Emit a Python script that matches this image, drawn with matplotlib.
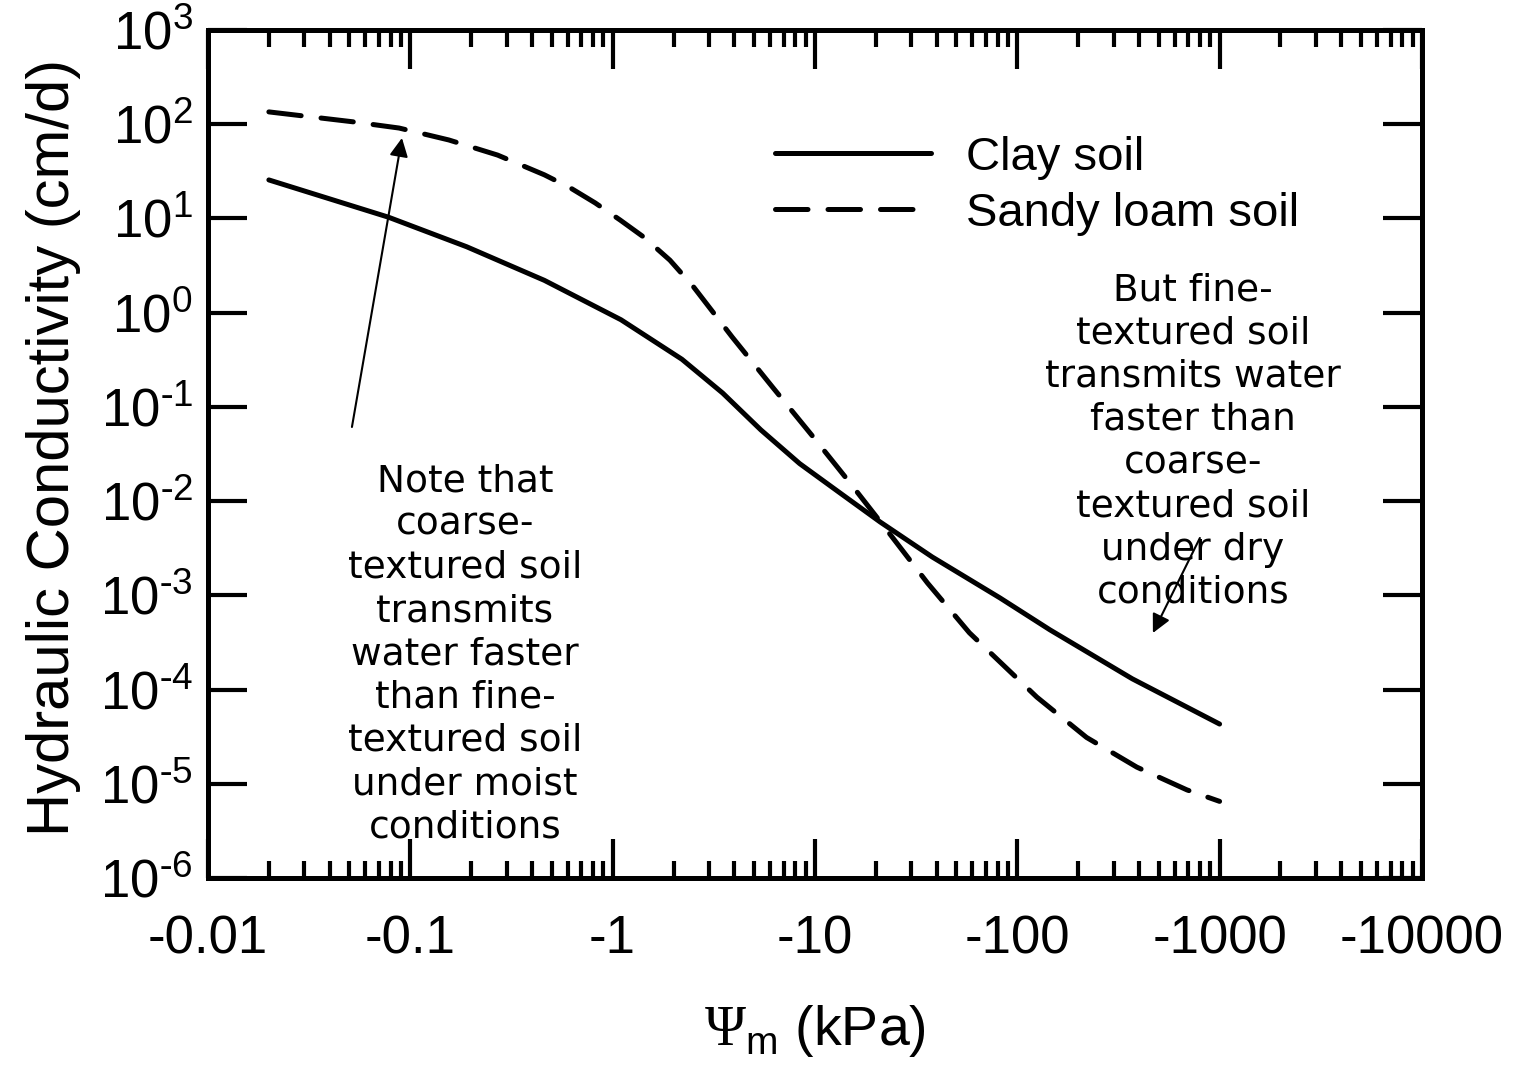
import numpy as np
import matplotlib
matplotlib.use("Agg")
import matplotlib.pyplot as plt
from matplotlib import ticker

plt.rcParams['font.family'] = ['Liberation Sans', 'DejaVu Sans']
plt.rcParams['mathtext.fontset'] = 'custom'
plt.rcParams['mathtext.rm'] = 'Liberation Serif'
plt.rcParams['mathtext.sf'] = 'Liberation Sans'

# matric potential magnitude (kPa); the axis is labelled with negative values
clay_psi = [0.02, 0.078, 0.19, 0.46, 1.1, 2.2, 3.5, 5.4, 8.4, 13.3, 21, 38, 82, 145, 370, 1000]
clay_k = [25.6, 10.3, 5.0, 2.2, 0.84, 0.32, 0.14, 0.057, 0.025, 0.0122, 0.0060, 0.00255,
          9.4e-4, 4.3e-4, 1.3e-4, 4.3e-5]

sand_psi = [0.02, 0.052, 0.088, 0.155, 0.27, 0.46, 0.62, 0.82, 1.09, 1.43, 1.92, 2.5, 3.9,
            6.2, 9.8, 14.9, 22.7, 36, 58, 125, 220, 390, 690, 1000]
sand_k = [135, 106, 91, 68, 47, 29, 21, 14.6, 9.6, 6.3, 3.6, 1.9, 0.55, 0.16, 0.048,
          0.0156, 0.0049, 0.00135, 4.0e-4, 8.3e-5, 3.1e-5, 1.5e-5, 8.6e-6, 6.5e-6]

series_labels = ['Clay soil', 'Sandy loam soil']

x_decades = [0.01, 0.1, 1, 10, 100, 1000, 10000]
y_decades = [1e-6, 1e-5, 1e-4, 1e-3, 1e-2, 1e-1, 1e0, 1e1, 1e2, 1e3]

note_left = ("Note that\ncoarse-\ntextured soil\ntransmits\nwater faster\n"
             "than fine-\ntextured soil\nunder moist\nconditions")
note_right = ("But fine-\ntextured soil\ntransmits water\nfaster than\ncoarse-\n"
              "textured soil\nunder dry\nconditions")


def decade_label(v, _):
    e = int(round(np.log10(v)))
    if e < 0:
        return r'$\mathsf{10^{\text{-}%d}}$' % (-e)
    return r'$\mathsf{10^{%d}}$' % e


fig = plt.figure(figsize=(15.18, 10.66), dpi=100)
ax = fig.add_axes([0.1370, 0.1764, 0.7997, 0.7955])

ax.plot(clay_psi, clay_k, color='black', lw=3.6, solid_capstyle='round',
        solid_joinstyle='round', label=series_labels[0])
ax.plot(sand_psi, sand_k, color='black', lw=3.6, ls=(0, (6.5, 4.0)),
        dash_capstyle='round', dash_joinstyle='round', label=series_labels[1])

ax.set_xscale('log')
ax.set_yscale('log')
ax.set_xlim(x_decades[0], x_decades[-1])
ax.set_ylim(y_decades[0], y_decades[-1])

minor_x = [d * m for d in x_decades[:-1] for m in range(2, 10)]
ax.xaxis.set_major_locator(ticker.FixedLocator(x_decades))
ax.xaxis.set_minor_locator(ticker.FixedLocator(minor_x))
ax.xaxis.set_major_formatter(ticker.FuncFormatter(lambda v, _: '-%g' % v))
ax.xaxis.set_minor_formatter(ticker.NullFormatter())

ax.yaxis.set_major_locator(ticker.FixedLocator(y_decades))
ax.yaxis.set_minor_locator(ticker.NullLocator())
ax.yaxis.set_major_formatter(ticker.FuncFormatter(decade_label))

for s in ax.spines.values():
    s.set_linewidth(3.6)

ax.tick_params(axis='x', which='major', direction='in', top=True, bottom=True,
               length=28, width=3, pad=26, labelsize=38)
ax.tick_params(axis='x', which='minor', direction='in', top=True, bottom=True,
               length=12, width=3)
ax.tick_params(axis='y', which='major', direction='in', left=True, right=True,
               length=28, width=3, pad=11, labelsize=38)

ax.set_ylabel('Hydraulic Conductivity (cm/d)', fontsize=43)
ax.yaxis.set_label_coords(-0.105, 0.508)
ax.set_xlabel(r'$\Psi_{\mathsf{m}}$ (kPa)', fontsize=40)
ax.xaxis.set_label_coords(0.5, -0.147)

ax.legend(loc='upper left', bbox_to_anchor=(0.467, 0.875), frameon=False,
          fontsize=34, handlelength=3.3, handletextpad=0.75, labelspacing=0.25,
          borderpad=0, borderaxespad=0)

ax.text(0.2117, 0.2636, note_left, transform=ax.transAxes, ha='center', va='center',
        multialignment='center', fontsize=27, family='DejaVu Sans', linespacing=1.26)
ax.text(0.8114, 0.5147, note_right, transform=ax.transAxes, ha='center', va='center',
        multialignment='center', fontsize=27, family='DejaVu Sans', linespacing=1.26)

arrow = dict(arrowstyle='-|>', color='black', lw=1.5, mutation_scale=28,
             shrinkA=0, shrinkB=0)
ax.annotate('', xy=(0.1598, 0.8726), xytext=(0.1186, 0.5318),
            xycoords='axes fraction', textcoords='axes fraction', arrowprops=arrow)
ax.annotate('', xy=(0.7784, 0.2889), xytext=(0.8171, 0.4009),
            xycoords='axes fraction', textcoords='axes fraction', arrowprops=arrow)

fig.savefig('out.png', dpi=100)
